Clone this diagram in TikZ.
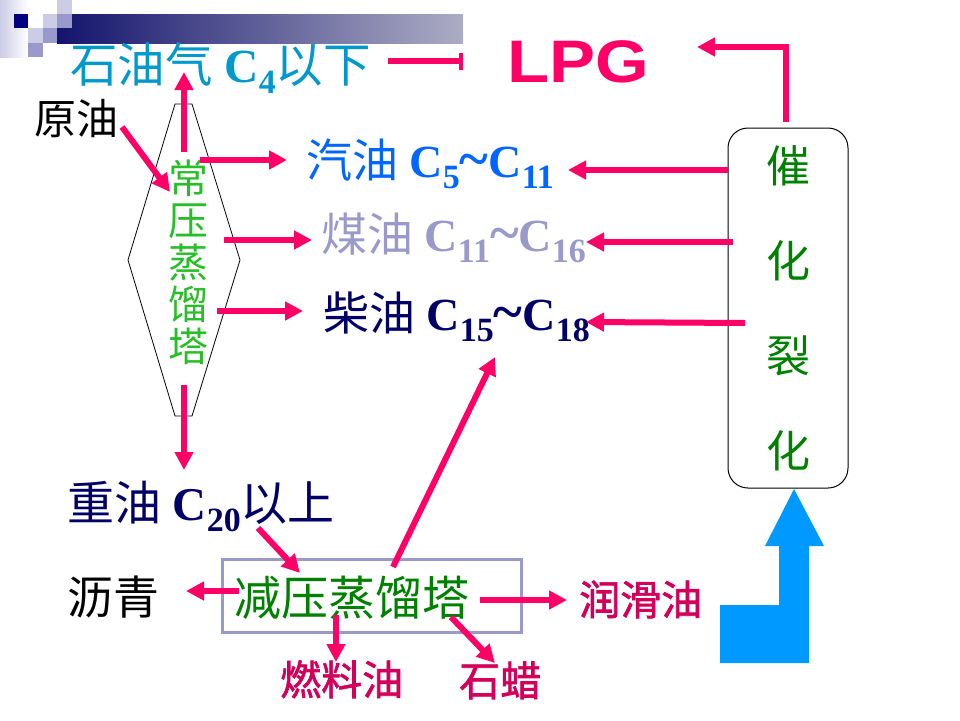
\documentclass[tikz,border=0pt]{standalone}
\usepackage{fontspec}
\setmainfont{Liberation Serif}
\newfontfamily\cjk{Noto Sans CJK SC}
\newfontfamily\cjkb{Noto Sans CJK SC}[FakeBold=1.6]
\newfontfamily\lpgfont{Liberation Sans}
\usetikzlibrary{arrows.meta,calc}
\definecolor{cPink}{RGB}{255,0,102}
\definecolor{cGas}{RGB}{0,153,204}
\definecolor{cGasoline}{RGB}{0,102,255}
\definecolor{cKero}{RGB}{153,153,204}
\definecolor{cNavy}{RGB}{0,0,102}
\definecolor{cGreenB}{RGB}{40,190,40}
\definecolor{cGreen}{RGB}{0,128,0}
\definecolor{cRed}{RGB}{210,0,90}
\definecolor{cBlue}{RGB}{0,153,255}
\definecolor{cLav}{RGB}{153,153,204}
\definecolor{cLight}{RGB}{204,204,230}
\definecolor{cDark}{RGB}{0,0,128}
\definecolor{cBarL}{RGB}{20,20,110}
\definecolor{cBarR}{RGB}{172,172,196}
\newcommand\chemC[1]{\textbf{C}\raisebox{-0.24em}{\fontsize{34}{34}\selectfont\textbf{#1}}}
\newcommand\tld{\textbf{\scalebox{1.2}{\textasciitilde}}}
\tikzset{
  txt/.style={inner sep=0pt, anchor=base west, font=\fontsize{46}{50}\selectfont},
  arr/.style={draw=cPink, line width=6pt, -{Triangle[length=18pt,width=18pt]}},
  arrbar/.style={draw=cPink, line width=6pt, -{Bar[width=17pt,line width=4pt]}},
  vtext/.style={align=center, inner sep=0pt}
}
\begin{document}
\begin{tikzpicture}[x=1pt,y=-1pt]
\useasboundingbox (0,0) rectangle (960,720);
% header decoration
\shade[left color=cLight, right color=white] (0,0) rectangle (28,57);
\shade[left color=cBarL, right color=cBarR] (57,14) rectangle (463,43);
\fill[cDark] (14,14) rectangle (28,28);
\fill[cLight] (43,14) rectangle (57,28);
\fill[cLight] (57,0) rectangle (72,14);
\fill[cLav] (57,14) rectangle (72,28);
\fill[cLight] (28,28) rectangle (43,43);
\fill[cLav] (43,28) rectangle (57,43);
\fill[cLav] (28,43) rectangle (43,57);

% atmospheric tower
\draw[line width=0.8pt] (175,104) -- (192,104) -- (240,260) -- (192,416) -- (175,416) -- (128,260) -- cycle;
\node[vtext, text=cGreenB, font=\fontsize{40}{42}\selectfont\cjk] (tower) at (188,262) {常\\压\\蒸\\馏\\塔};

% texts
\node[txt, text=cGas, font=\fontsize{47.5}{52}\selectfont] (lpggas) at (70,82) {{\cjk 石油气} \chemC{4}{\cjk 以下}};
\node[inner sep=0pt, text=cPink, font=\lpgfont\bfseries\fontsize{60}{60}\selectfont] (lpg) at (578,62) {\scalebox{1.15}[1]{LPG}};
\node[txt, font=\fontsize{42}{46}\selectfont\cjk] (crude) at (34,134) {原油};
\node[txt, text=cGasoline] (gasoline) at (306,177) {{\cjk 汽油} \chemC{5}\tld\chemC{11}};
\node[txt, text=cKero] (kero) at (321,251) {{\cjk 煤油} \chemC{11}\tld\chemC{16}};
\node[txt, text=cNavy] (diesel) at (323,330) {{\cjk 柴油} \chemC{15}\tld\chemC{18}};
\node[txt, text=cNavy, font=\fontsize{47}{50}\selectfont] (heavy) at (67,520) {{\cjk 重油} \chemC{20}{\cjk 以上}};
\node[txt, font=\fontsize{46}{50}\selectfont\cjk] (asph) at (67,614) {沥青};
\node[draw=cLav, line width=3pt, minimum width=299pt, minimum height=73pt, inner sep=0pt] (vacbox) at (371.5,595.5) {};
\node[txt, text=cGreen, font=\fontsize{47}{50}\selectfont\cjk] (vac) at (234,615) {减压蒸馏塔};
\node[txt, text=cRed, font=\fontsize{41}{45}\selectfont\cjkb] (fuel) at (280,695) {燃料油};
\node[txt, text=cRed, font=\fontsize{41}{45}\selectfont\cjkb] (wax) at (459,696) {石蜡};
\node[txt, text=cRed, font=\fontsize{41}{45}\selectfont\cjkb] (lube) at (579,615) {润滑油};

% catalytic cracking
\node[draw, line width=1pt, rounded corners=20pt, minimum width=120pt, minimum height=360pt, vtext, text=cGreen, font=\fontsize{44}{95}\selectfont\cjk] (cat) at (788,308) {催\\化\\裂\\化};

% big blue arrow
\fill[cBlue] (720,663) -- (809,663) -- (809,546) -- (824,546) -- (794,489) -- (765,546) -- (779,546) -- (779,605) -- (720,605) -- cycle;

% connector end points
\coordinate (gasOut) at (388,61);
\coordinate (lpgIn) at (463,61);
\coordinate (catTop) at (786,122);
\coordinate (lpgR) at (697,47);
\coordinate (catG) at (728,170);
\coordinate (gasR) at (568,170);
\coordinate (catK) at (733,242);
\coordinate (keroR) at (586,242);
\coordinate (catD) at (745,323);
\coordinate (dieselR) at (586,322);
\coordinate (towTop) at (184,152);
\coordinate (lpggasIn) at (184,72);
\coordinate (crudeOut) at (122,127);
\coordinate (towIn) at (170,192);
\coordinate (towG) at (200,160);
\coordinate (gasL) at (287,160);
\coordinate (towK) at (224,240);
\coordinate (keroL) at (312,240);
\coordinate (towD) at (217,311);
\coordinate (dieselL) at (303,311);
\coordinate (towBot) at (184,385);
\coordinate (heavyIn) at (184,470);
\coordinate (heavyOut) at (258,528);
\coordinate (vacIn) at (300,573);
\coordinate (vacL) at (239,591);
\coordinate (asphIn) at (186,591);
\coordinate (vacB) at (336,615);
\coordinate (fuelIn) at (336,662);
\coordinate (vacW) at (451,617);
\coordinate (waxIn) at (495,663);
\coordinate (vacR) at (480,600);
\coordinate (lubeIn) at (567,600);
\coordinate (vacT) at (393,567);
\coordinate (dieselB) at (495,357);

% connectors
\draw[arrbar] (gasOut) -- (lpgIn);
\draw[arr] (catTop) |- (lpgR);
\draw[arr] (catG) -- (gasR);
\draw[arr] (catK) -- (keroR);
\draw[arr] (catD) -- (dieselR);
\draw[arr] (towTop) -- (lpggasIn);
\draw[arr] (crudeOut) -- (towIn);
\draw[arr] (towG) -- (gasL);
\draw[arr] (towK) -- (keroL);
\draw[arr] (towD) -- (dieselL);
\draw[arr] (towBot) -- (heavyIn);
\draw[arr] (heavyOut) -- (vacIn);
\draw[arr] (vacL) -- (asphIn);
\draw[arr] (vacB) -- (fuelIn);
\draw[arr] (vacW) -- (waxIn);
\draw[arr] (vacR) -- (lubeIn);
\draw[arr] (vacT) -- (dieselB);
\end{tikzpicture}
\end{document}
